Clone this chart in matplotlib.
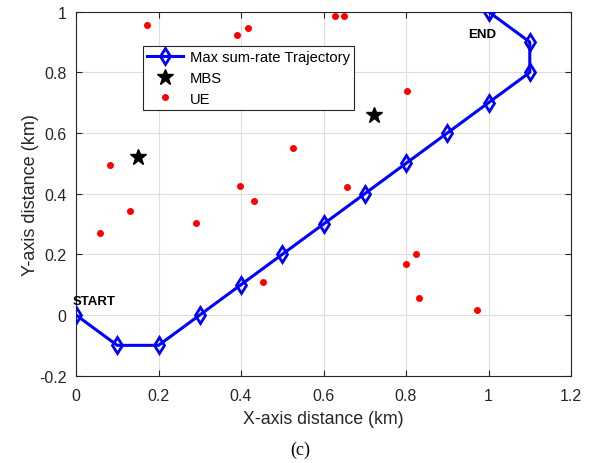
import matplotlib
matplotlib.use("Agg")
import matplotlib.pyplot as plt

plt.rcParams['font.family'] = ['Liberation Sans', 'DejaVu Sans']

traj_x = [0, 0.1, 0.2, 0.3, 0.4, 0.5, 0.6, 0.7, 0.8, 0.9, 1.0, 1.1, 1.1, 1.0]
traj_y = [0, -0.1, -0.1, 0, 0.1, 0.2, 0.3, 0.4, 0.5, 0.6, 0.7, 0.8, 0.9, 1.0]

mbs_x = [0.15, 0.723]
mbs_y = [0.52, 0.66]

ue_x = [0.172, 0.39, 0.416, 0.082, 0.527, 0.398, 0.432, 0.132, 0.292, 0.058,
        0.629, 0.65, 0.802, 0.658, 0.454, 0.824, 0.799, 0.831, 0.973]
ue_y = [0.955, 0.923, 0.946, 0.494, 0.55, 0.427, 0.376, 0.343, 0.305, 0.272,
        0.987, 0.987, 0.74, 0.422, 0.109, 0.201, 0.169, 0.055, 0.017]

xticks = [0, 0.2, 0.4, 0.6, 0.8, 1, 1.2]
xtick_labels = ['0', '0.2', '0.4', '0.6', '0.8', '1', '1.2']
yticks = [-0.2, 0, 0.2, 0.4, 0.6, 0.8, 1]
ytick_labels = ['-0.2', '0', '0.2', '0.4', '0.6', '0.8', '1']

fig = plt.figure(figsize=(5.91, 4.64), dpi=100)
ax = fig.add_axes([0.1286, 0.1882, 0.8376, 0.7844])

ax.plot(traj_x, traj_y, color='#0000ff', lw=2.2, marker='d', ms=8,
        mfc='none', mec='#0000ff', mew=2, label='Max sum-rate Trajectory', zorder=3)
ax.plot(mbs_x, mbs_y, linestyle='none', marker='*', ms=12, color='black', label='MBS', zorder=4)
ax.plot(ue_x, ue_y, linestyle='none', marker='o', ms=4, color='red', label='UE', zorder=4)

ax.text(-0.008, 0.045, 'START', fontsize=9.5, fontweight='bold', ha='left', va='center')
ax.text(0.985, 0.927, 'END', fontsize=9.5, fontweight='bold', ha='center', va='center')

ax.set_xlim(0, 1.2)
ax.set_ylim(-0.2, 1)
ax.set_xticks(xticks)
ax.set_xticklabels(xtick_labels)
ax.set_yticks(yticks)
ax.set_yticklabels(ytick_labels)
ax.grid(True, color='#dedede', lw=0.8)
ax.set_axisbelow(True)
ax.tick_params(direction='in', top=True, right=True, labelsize=11.5, colors='#262626', length=4)
ax.tick_params(axis='x', pad=9)
ax.tick_params(axis='y', pad=7)
for s in ax.spines.values():
    s.set_color('#262626')
    s.set_linewidth(0.8)

ax.set_xlabel('X-axis distance (km)', fontsize=12.8, color='#262626', labelpad=5)
ax.set_ylabel('Y-axis distance (km)', fontsize=13, color='#262626', labelpad=0)

leg = ax.legend(loc='upper left', bbox_to_anchor=(0.135, 0.906), fontsize=10.6,
                frameon=True, fancybox=False, edgecolor='#262626', framealpha=1,
                handlelength=2.45, borderpad=0.3, labelspacing=0.45, handletextpad=0.45,
                borderaxespad=0)
leg.get_frame().set_linewidth(0.8)

fig.text(0.508, 0.03, '(c)', fontsize=13, family='Liberation Serif', ha='center', va='center')

fig.savefig('out.png', dpi=100)
